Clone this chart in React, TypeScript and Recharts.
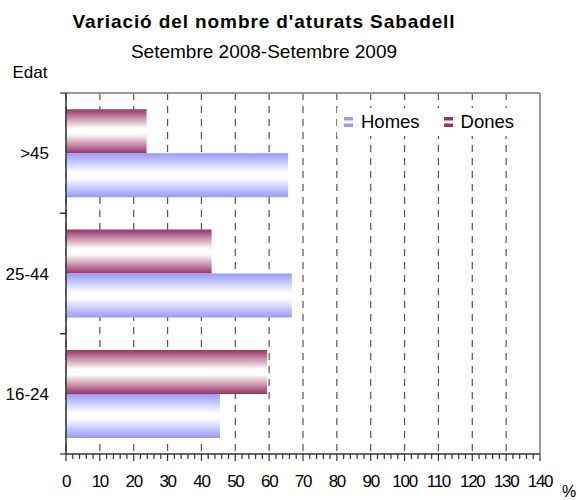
import React from 'react';
import {
  BarChart,
  Bar,
  XAxis,
  YAxis,
  CartesianGrid,
  Legend,
  ReferenceLine,
} from 'recharts';

// ---- data ----
const ageGroups = ['>45', '25-44', '16-24'];
const homesValues = [65.6, 66.7, 45.5];
const donesValues = [23.8, 43.0, 59.4];
const majorTicks = [0, 10, 20, 30, 40, 50, 60, 70, 80, 90, 100, 110, 120, 130, 140];
const minorStep = 2;
const minorTicks = Array.from({ length: 140 / minorStep + 1 }, (_, i) => i * minorStep);

const titleText = "Variació del nombre d'aturats Sabadell";
const subtitleText = 'Setembre 2008-Setembre 2009';
const yAxisTitle = 'Edat';
const xAxisUnit = '%';
const seriesNames = { homes: 'Homes', dones: 'Dones' };

const data = ageGroups.map((age, i) => ({ age, homes: homesValues[i], dones: donesValues[i] }));

const FONT = '"Liberation Sans", Arial, sans-serif';
const HOMES_COLOR = '#9999FF';
const DONES_COLOR = '#993366';
const AXIS_COLOR = '#333333';

const GradStops = ({ color }: { color: string }) => (
  <>
    <stop offset="0" stopColor={color} />
    <stop offset="0.44" stopColor="#FFFFFF" />
    <stop offset="0.56" stopColor="#FFFFFF" />
    <stop offset="1" stopColor={color} />
  </>
);

const XTick = (props: any) => {
  const { x, y, payload } = props;
  const v = payload.value;
  const major = v % 10 === 0;
  return (
    <g>
      <line x1={x} x2={x} y1={y} y2={y + (major ? 7 : 5)} stroke={AXIS_COLOR} strokeWidth={1.2} />
      {major && (
        <text
          x={x}
          y={y + 33}
          textAnchor="middle"
          fontFamily={FONT}
          fontSize={17}
          letterSpacing={-1.3}
          fill="#000"
        >
          {v}
        </text>
      )}
    </g>
  );
};

const YTick = (props: any) => {
  const { x, y, payload } = props;
  const off = payload && typeof payload.offset === 'number' ? payload.offset : 0;
  return (
    <g>
      {off > 0 && (
        <>
          <line x1={x - 6} x2={x} y1={y - off} y2={y - off} stroke={AXIS_COLOR} strokeWidth={1.2} />
          <line x1={x - 6} x2={x} y1={y + off} y2={y + off} stroke={AXIS_COLOR} strokeWidth={1.2} />
        </>
      )}
      <text x={x - 17} y={y + 6} textAnchor="end" fontFamily={FONT} fontSize={17} fill="#000">
        {payload.value}
      </text>
    </g>
  );
};

const LegendIcon = ({ id, color }: { id: string; color: string }) => (
  <svg width={9} height={10} style={{ display: 'block' }}>
    <defs>
      <linearGradient id={id} x1="0" y1="0" x2="0" y2="1">
        <stop offset="0" stopColor={color} />
        <stop offset="0.3" stopColor={color} />
        <stop offset="0.4" stopColor="#FFFFFF" />
        <stop offset="0.6" stopColor="#FFFFFF" />
        <stop offset="0.7" stopColor={color} />
        <stop offset="1" stopColor={color} />
      </linearGradient>
    </defs>
    <rect x={0} y={0} width={9} height={10} fill={`url(#${id})`} />
  </svg>
);

const LegendContent = () => (
  <div
    style={{
      display: 'flex',
      alignItems: 'center',
      height: 22,
      lineHeight: '22px',
      padding: '3px 8px 3px 7px',
      background: '#FFFFFF',
      fontFamily: FONT,
      fontSize: 18.5,
      color: '#000',
      whiteSpace: 'nowrap',
    }}
  >
    <LegendIcon id="lgHomes" color={HOMES_COLOR} />
    <span style={{ marginLeft: 8 }}>{seriesNames.homes}</span>
    <span style={{ marginLeft: 24 }}>
      <LegendIcon id="lgDones" color={DONES_COLOR} />
    </span>
    <span style={{ marginLeft: 8 }}>{seriesNames.dones}</span>
  </div>
);

export default function App() {
  return (
    <div style={{ position: 'absolute', left: 0, top: 0, width: 578, height: 500, background: '#fff' }}>
      <BarChart
        layout="vertical"
        width={578}
        height={500}
        data={data}
        margin={{ top: 92, right: 38, bottom: 6, left: 6 }}
        barCategoryGap="13.5%"
        barGap={0}
      >
        <defs>
          <linearGradient id="gradHomes" x1="0" y1="0" x2="0" y2="1">
            <GradStops color={HOMES_COLOR} />
          </linearGradient>
          <linearGradient id="gradDones" x1="0" y1="0" x2="0" y2="1">
            <GradStops color={DONES_COLOR} />
          </linearGradient>
        </defs>
        <CartesianGrid
          xAxisId="main"
          horizontal={false}
          vertical={true}
          verticalValues={majorTicks}
          stroke="#555555"
          strokeWidth={1.2}
          strokeDasharray="7 6"
        />
        <XAxis
          xAxisId="main"
          type="number"
          domain={[0, 140]}
          ticks={minorTicks}
          interval={0}
          height={40}
          tickSize={0}
          tickMargin={0}
          tickLine={false}
          tick={<XTick />}
          axisLine={{ stroke: AXIS_COLOR, strokeWidth: 1.5 }}
        />
        <XAxis
          xAxisId="top"
          orientation="top"
          type="number"
          domain={[0, 140]}
          height={1}
          tick={false}
          tickLine={false}
          axisLine={{ stroke: '#999999', strokeWidth: 2 }}
        />
        <YAxis
          type="category"
          dataKey="age"
          width={60}
          tickSize={0}
          tickMargin={0}
          tickLine={false}
          tick={<YTick />}
          axisLine={{ stroke: AXIS_COLOR, strokeWidth: 1.5 }}
        />
        <Legend
          layout="horizontal"
          verticalAlign="middle"
          align="center"
          content={<LegendContent />}
          wrapperStyle={{ left: 337, top: 107.6, width: 'auto', height: 'auto' }}
        />
        <Bar
          xAxisId="main"
          dataKey="dones"
          name={seriesNames.dones}
          fill="url(#gradDones)"
          isAnimationActive={false}
        />
        <Bar
          xAxisId="main"
          dataKey="homes"
          name={seriesNames.homes}
          fill="url(#gradHomes)"
          isAnimationActive={false}
        />
        <ReferenceLine xAxisId="main" x={140} stroke="#999999" strokeWidth={2} />
      </BarChart>
      <svg
        width={578}
        height={500}
        style={{ position: 'absolute', left: 0, top: 0, pointerEvents: 'none' }}
      >
        <text
          x={264}
          y={28}
          textAnchor="middle"
          fontFamily={FONT}
          fontWeight="bold"
          fontSize={19}
          letterSpacing={0.9}
          fill="#000"
        >
          {titleText}
        </text>
        <text x={264} y={58} textAnchor="middle" fontFamily={FONT} fontSize={19} fill="#000">
          {subtitleText}
        </text>
        <text x={12.5} y={78} fontFamily={FONT} fontSize={17} fill="#000">
          {yAxisTitle}
        </text>
        <text x={562} y={497} fontFamily={FONT} fontSize={16} fill="#000">
          {xAxisUnit}
        </text>
      </svg>
    </div>
  );
}
